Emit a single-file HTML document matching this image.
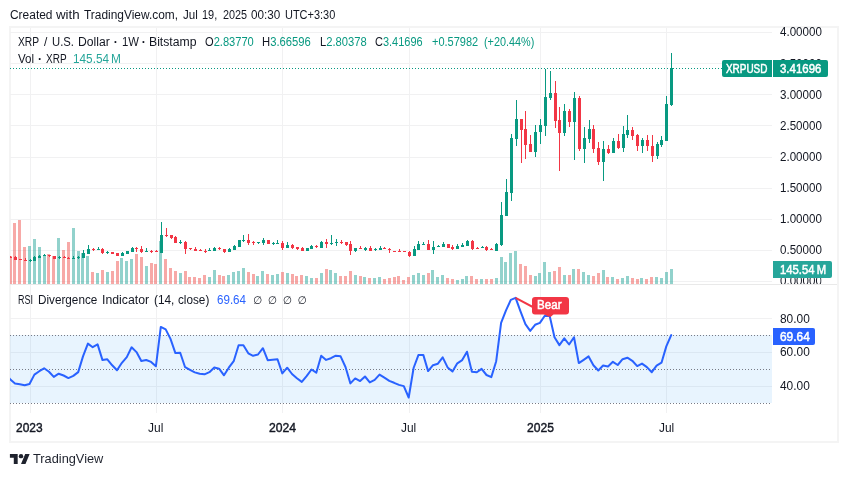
<!DOCTYPE html>
<html lang="en">
<head>
<meta charset="utf-8">
<title>XRP / U.S. Dollar chart</title>
<style>
html,body{margin:0;padding:0;background:#fff;}
body{width:848px;height:477px;position:relative;overflow:hidden;font-family:"Liberation Sans","DejaVu Sans",sans-serif;}
.t{position:absolute;white-space:pre;line-height:16px;transform-origin:0 50%;display:block;}
.t b{font-weight:400;color:#089981;}
.layer{position:absolute;left:0;top:0;width:848px;height:477px;}
</style>
</head>
<body>
<div class="layer">
<span class="t" id="t41" style="left:780.1px;top:56px;font-size:12px;color:#131722;transform:scaleX(0.9656);">3.50000</span>
<span class="t" id="t42" style="left:780.1px;top:273px;font-size:12px;color:#131722;transform:scaleX(0.9656);height:11.0px;overflow:hidden;">0.00000</span>
</div>
<svg width="848" height="477" viewBox="0 0 848 477" style="position:absolute;left:0;top:0">
<defs>
<clipPath id="cm"><rect x="10" y="28" width="762" height="256"/></clipPath>
<clipPath id="cr"><rect x="10" y="285" width="762" height="128"/></clipPath>
</defs>
<rect x="10" y="27" width="828" height="415" fill="none" stroke="#f4f4f4" stroke-width="2"/>
<g shape-rendering="crispEdges">
<rect x="10" y="32" width="762" height="1" fill="#f1f1f2"/>
<rect x="10" y="63" width="762" height="1" fill="#f1f1f2"/>
<rect x="10" y="94" width="762" height="1" fill="#f1f1f2"/>
<rect x="10" y="125" width="762" height="1" fill="#f1f1f2"/>
<rect x="10" y="157" width="762" height="1" fill="#f1f1f2"/>
<rect x="10" y="188" width="762" height="1" fill="#f1f1f2"/>
<rect x="10" y="219" width="762" height="1" fill="#f1f1f2"/>
<rect x="10" y="250" width="762" height="1" fill="#f1f1f2"/>
<rect x="10" y="281" width="762" height="1" fill="#f1f1f2"/>
<rect x="10" y="318" width="762" height="1" fill="#f1f1f2" fill-opacity="1"/>
<rect x="10" y="352" width="762" height="1" fill="#f1f1f2" fill-opacity="1"/>
<rect x="10" y="386" width="762" height="1" fill="#f1f1f2" fill-opacity="1"/>
<rect x="30" y="28" width="1" height="385" fill="#f1f1f2"/>
<rect x="156" y="28" width="1" height="385" fill="#f1f1f2"/>
<rect x="282" y="28" width="1" height="385" fill="#f1f1f2"/>
<rect x="409" y="28" width="1" height="385" fill="#f1f1f2"/>
<rect x="540" y="28" width="1" height="385" fill="#f1f1f2"/>
<rect x="666" y="28" width="1" height="385" fill="#f1f1f2"/>
<rect x="10" y="284" width="827" height="1" fill="#e9e9e9"/>
</g>
<rect x="10" y="335" width="762" height="68" fill="#2196f3" fill-opacity="0.1"/>
<g shape-rendering="crispEdges" clip-path="url(#cm)">
<rect x="9" y="256" width="3" height="28" fill="#ef5350" fill-opacity="0.5"/>
<rect x="13" y="223" width="3" height="61" fill="#ef5350" fill-opacity="0.5"/>
<rect x="18" y="220" width="3" height="64" fill="#ef5350" fill-opacity="0.5"/>
<rect x="23" y="247" width="3" height="37" fill="#ef5350" fill-opacity="0.5"/>
<rect x="28" y="246" width="3" height="38" fill="#26a69a" fill-opacity="0.5"/>
<rect x="33" y="239" width="3" height="45" fill="#26a69a" fill-opacity="0.5"/>
<rect x="38" y="247" width="3" height="37" fill="#26a69a" fill-opacity="0.5"/>
<rect x="43" y="255" width="3" height="29" fill="#26a69a" fill-opacity="0.5"/>
<rect x="47" y="254" width="3" height="30" fill="#ef5350" fill-opacity="0.5"/>
<rect x="52" y="256" width="3" height="28" fill="#ef5350" fill-opacity="0.5"/>
<rect x="57" y="238" width="3" height="46" fill="#26a69a" fill-opacity="0.5"/>
<rect x="62" y="250" width="3" height="34" fill="#ef5350" fill-opacity="0.5"/>
<rect x="67" y="242" width="3" height="42" fill="#ef5350" fill-opacity="0.5"/>
<rect x="72" y="228" width="3" height="56" fill="#26a69a" fill-opacity="0.5"/>
<rect x="77" y="251" width="3" height="33" fill="#26a69a" fill-opacity="0.5"/>
<rect x="81" y="253" width="3" height="31" fill="#26a69a" fill-opacity="0.5"/>
<rect x="86" y="256" width="3" height="28" fill="#26a69a" fill-opacity="0.5"/>
<rect x="91" y="272" width="3" height="12" fill="#ef5350" fill-opacity="0.5"/>
<rect x="96" y="273" width="3" height="11" fill="#26a69a" fill-opacity="0.5"/>
<rect x="101" y="270" width="3" height="14" fill="#ef5350" fill-opacity="0.5"/>
<rect x="106" y="272" width="3" height="12" fill="#26a69a" fill-opacity="0.5"/>
<rect x="111" y="271" width="3" height="13" fill="#ef5350" fill-opacity="0.5"/>
<rect x="116" y="261" width="3" height="23" fill="#ef5350" fill-opacity="0.5"/>
<rect x="120" y="258" width="3" height="26" fill="#26a69a" fill-opacity="0.5"/>
<rect x="125" y="261" width="3" height="23" fill="#26a69a" fill-opacity="0.5"/>
<rect x="130" y="259" width="3" height="25" fill="#26a69a" fill-opacity="0.5"/>
<rect x="135" y="254" width="3" height="30" fill="#ef5350" fill-opacity="0.5"/>
<rect x="140" y="257" width="3" height="27" fill="#ef5350" fill-opacity="0.5"/>
<rect x="145" y="266" width="3" height="18" fill="#26a69a" fill-opacity="0.5"/>
<rect x="150" y="263" width="3" height="21" fill="#ef5350" fill-opacity="0.5"/>
<rect x="154" y="264" width="3" height="20" fill="#ef5350" fill-opacity="0.5"/>
<rect x="159" y="241" width="3" height="43" fill="#26a69a" fill-opacity="0.5"/>
<rect x="164" y="259" width="3" height="25" fill="#ef5350" fill-opacity="0.5"/>
<rect x="169" y="268" width="3" height="16" fill="#ef5350" fill-opacity="0.5"/>
<rect x="174" y="271" width="3" height="13" fill="#ef5350" fill-opacity="0.5"/>
<rect x="179" y="273" width="3" height="11" fill="#26a69a" fill-opacity="0.5"/>
<rect x="184" y="271" width="3" height="13" fill="#ef5350" fill-opacity="0.5"/>
<rect x="188" y="277" width="3" height="7" fill="#ef5350" fill-opacity="0.5"/>
<rect x="193" y="277" width="3" height="7" fill="#ef5350" fill-opacity="0.5"/>
<rect x="198" y="278" width="3" height="6" fill="#ef5350" fill-opacity="0.5"/>
<rect x="203" y="275" width="3" height="9" fill="#ef5350" fill-opacity="0.5"/>
<rect x="208" y="277" width="3" height="7" fill="#26a69a" fill-opacity="0.5"/>
<rect x="213" y="270" width="3" height="14" fill="#26a69a" fill-opacity="0.5"/>
<rect x="218" y="275" width="3" height="9" fill="#ef5350" fill-opacity="0.5"/>
<rect x="222" y="276" width="3" height="8" fill="#ef5350" fill-opacity="0.5"/>
<rect x="227" y="275" width="3" height="9" fill="#26a69a" fill-opacity="0.5"/>
<rect x="232" y="272" width="3" height="12" fill="#26a69a" fill-opacity="0.5"/>
<rect x="237" y="271" width="3" height="13" fill="#26a69a" fill-opacity="0.5"/>
<rect x="242" y="268" width="3" height="16" fill="#26a69a" fill-opacity="0.5"/>
<rect x="247" y="272" width="3" height="12" fill="#ef5350" fill-opacity="0.5"/>
<rect x="252" y="274" width="3" height="10" fill="#ef5350" fill-opacity="0.5"/>
<rect x="256" y="276" width="3" height="8" fill="#26a69a" fill-opacity="0.5"/>
<rect x="261" y="271" width="3" height="13" fill="#26a69a" fill-opacity="0.5"/>
<rect x="266" y="274" width="3" height="10" fill="#ef5350" fill-opacity="0.5"/>
<rect x="271" y="275" width="3" height="9" fill="#26a69a" fill-opacity="0.5"/>
<rect x="276" y="274" width="3" height="10" fill="#26a69a" fill-opacity="0.5"/>
<rect x="281" y="272" width="3" height="12" fill="#ef5350" fill-opacity="0.5"/>
<rect x="286" y="273" width="3" height="11" fill="#26a69a" fill-opacity="0.5"/>
<rect x="291" y="274" width="3" height="10" fill="#ef5350" fill-opacity="0.5"/>
<rect x="295" y="276" width="3" height="8" fill="#ef5350" fill-opacity="0.5"/>
<rect x="300" y="275" width="3" height="9" fill="#ef5350" fill-opacity="0.5"/>
<rect x="305" y="276" width="3" height="8" fill="#26a69a" fill-opacity="0.5"/>
<rect x="310" y="278" width="3" height="6" fill="#26a69a" fill-opacity="0.5"/>
<rect x="315" y="278" width="3" height="6" fill="#ef5350" fill-opacity="0.5"/>
<rect x="320" y="273" width="3" height="11" fill="#26a69a" fill-opacity="0.5"/>
<rect x="325" y="269" width="3" height="15" fill="#ef5350" fill-opacity="0.5"/>
<rect x="329" y="270" width="3" height="14" fill="#26a69a" fill-opacity="0.5"/>
<rect x="334" y="273" width="3" height="11" fill="#26a69a" fill-opacity="0.5"/>
<rect x="339" y="276" width="3" height="8" fill="#ef5350" fill-opacity="0.5"/>
<rect x="344" y="276" width="3" height="8" fill="#ef5350" fill-opacity="0.5"/>
<rect x="349" y="271" width="3" height="13" fill="#ef5350" fill-opacity="0.5"/>
<rect x="354" y="275" width="3" height="9" fill="#26a69a" fill-opacity="0.5"/>
<rect x="359" y="276" width="3" height="8" fill="#ef5350" fill-opacity="0.5"/>
<rect x="363" y="277" width="3" height="7" fill="#26a69a" fill-opacity="0.5"/>
<rect x="368" y="278" width="3" height="6" fill="#ef5350" fill-opacity="0.5"/>
<rect x="373" y="278" width="3" height="6" fill="#26a69a" fill-opacity="0.5"/>
<rect x="378" y="277" width="3" height="7" fill="#26a69a" fill-opacity="0.5"/>
<rect x="383" y="279" width="3" height="5" fill="#ef5350" fill-opacity="0.5"/>
<rect x="388" y="278" width="3" height="6" fill="#ef5350" fill-opacity="0.5"/>
<rect x="393" y="277" width="3" height="7" fill="#ef5350" fill-opacity="0.5"/>
<rect x="397" y="276" width="3" height="8" fill="#ef5350" fill-opacity="0.5"/>
<rect x="402" y="280" width="3" height="4" fill="#ef5350" fill-opacity="0.5"/>
<rect x="407" y="277" width="3" height="7" fill="#ef5350" fill-opacity="0.5"/>
<rect x="412" y="275" width="3" height="9" fill="#26a69a" fill-opacity="0.5"/>
<rect x="417" y="273" width="3" height="11" fill="#26a69a" fill-opacity="0.5"/>
<rect x="422" y="275" width="3" height="9" fill="#26a69a" fill-opacity="0.5"/>
<rect x="427" y="273" width="3" height="11" fill="#ef5350" fill-opacity="0.5"/>
<rect x="431" y="270" width="3" height="14" fill="#26a69a" fill-opacity="0.5"/>
<rect x="436" y="277" width="3" height="7" fill="#26a69a" fill-opacity="0.5"/>
<rect x="441" y="275" width="3" height="9" fill="#26a69a" fill-opacity="0.5"/>
<rect x="446" y="278" width="3" height="6" fill="#ef5350" fill-opacity="0.5"/>
<rect x="451" y="279" width="3" height="5" fill="#ef5350" fill-opacity="0.5"/>
<rect x="456" y="280" width="3" height="4" fill="#26a69a" fill-opacity="0.5"/>
<rect x="461" y="279" width="3" height="5" fill="#26a69a" fill-opacity="0.5"/>
<rect x="465" y="276" width="3" height="8" fill="#26a69a" fill-opacity="0.5"/>
<rect x="470" y="276" width="3" height="8" fill="#ef5350" fill-opacity="0.5"/>
<rect x="475" y="279" width="3" height="5" fill="#ef5350" fill-opacity="0.5"/>
<rect x="480" y="279" width="3" height="5" fill="#26a69a" fill-opacity="0.5"/>
<rect x="485" y="279" width="3" height="5" fill="#ef5350" fill-opacity="0.5"/>
<rect x="490" y="279" width="3" height="5" fill="#ef5350" fill-opacity="0.5"/>
<rect x="495" y="278" width="3" height="6" fill="#26a69a" fill-opacity="0.5"/>
<rect x="500" y="257" width="3" height="27" fill="#26a69a" fill-opacity="0.5"/>
<rect x="504" y="262" width="3" height="22" fill="#26a69a" fill-opacity="0.5"/>
<rect x="509" y="253" width="3" height="31" fill="#26a69a" fill-opacity="0.5"/>
<rect x="514" y="251" width="3" height="33" fill="#26a69a" fill-opacity="0.5"/>
<rect x="519" y="264" width="3" height="20" fill="#ef5350" fill-opacity="0.5"/>
<rect x="524" y="266" width="3" height="18" fill="#ef5350" fill-opacity="0.5"/>
<rect x="529" y="275" width="3" height="9" fill="#ef5350" fill-opacity="0.5"/>
<rect x="534" y="276" width="3" height="8" fill="#26a69a" fill-opacity="0.5"/>
<rect x="538" y="273" width="3" height="11" fill="#26a69a" fill-opacity="0.5"/>
<rect x="543" y="262" width="3" height="22" fill="#26a69a" fill-opacity="0.5"/>
<rect x="548" y="272" width="3" height="12" fill="#26a69a" fill-opacity="0.5"/>
<rect x="553" y="271" width="3" height="13" fill="#ef5350" fill-opacity="0.5"/>
<rect x="558" y="267" width="3" height="17" fill="#ef5350" fill-opacity="0.5"/>
<rect x="563" y="275" width="3" height="9" fill="#26a69a" fill-opacity="0.5"/>
<rect x="568" y="275" width="3" height="9" fill="#ef5350" fill-opacity="0.5"/>
<rect x="572" y="269" width="3" height="15" fill="#26a69a" fill-opacity="0.5"/>
<rect x="577" y="269" width="3" height="15" fill="#ef5350" fill-opacity="0.5"/>
<rect x="582" y="272" width="3" height="12" fill="#26a69a" fill-opacity="0.5"/>
<rect x="587" y="275" width="3" height="9" fill="#26a69a" fill-opacity="0.5"/>
<rect x="592" y="276" width="3" height="8" fill="#ef5350" fill-opacity="0.5"/>
<rect x="597" y="273" width="3" height="11" fill="#ef5350" fill-opacity="0.5"/>
<rect x="602" y="270" width="3" height="14" fill="#26a69a" fill-opacity="0.5"/>
<rect x="606" y="277" width="3" height="7" fill="#ef5350" fill-opacity="0.5"/>
<rect x="611" y="277" width="3" height="7" fill="#26a69a" fill-opacity="0.5"/>
<rect x="616" y="279" width="3" height="5" fill="#ef5350" fill-opacity="0.5"/>
<rect x="621" y="278" width="3" height="6" fill="#26a69a" fill-opacity="0.5"/>
<rect x="626" y="276" width="3" height="8" fill="#26a69a" fill-opacity="0.5"/>
<rect x="631" y="278" width="3" height="6" fill="#ef5350" fill-opacity="0.5"/>
<rect x="636" y="279" width="3" height="5" fill="#ef5350" fill-opacity="0.5"/>
<rect x="640" y="278" width="3" height="6" fill="#26a69a" fill-opacity="0.5"/>
<rect x="645" y="279" width="3" height="5" fill="#ef5350" fill-opacity="0.5"/>
<rect x="650" y="277" width="3" height="7" fill="#ef5350" fill-opacity="0.5"/>
<rect x="655" y="277" width="3" height="7" fill="#26a69a" fill-opacity="0.5"/>
<rect x="660" y="278" width="3" height="6" fill="#26a69a" fill-opacity="0.5"/>
<rect x="665" y="272" width="3" height="12" fill="#26a69a" fill-opacity="0.5"/>
<rect x="670" y="269" width="3" height="15" fill="#26a69a" fill-opacity="0.5"/>
</g>
<line x1="10" y1="68.5" x2="722" y2="68.5" stroke="#089981" stroke-width="1" stroke-dasharray="1 2" shape-rendering="crispEdges"/>
<g shape-rendering="crispEdges" clip-path="url(#cm)">
<rect x="10" y="256" width="1" height="2" fill="#f23645"/>
<rect x="9" y="257" width="3" height="1" fill="#f23645"/>
<rect x="15" y="256" width="1" height="4" fill="#f23645"/>
<rect x="14" y="257" width="3" height="3" fill="#f23645"/>
<rect x="19" y="259" width="3" height="1" fill="#f23645"/>
<rect x="25" y="258" width="1" height="3" fill="#f23645"/>
<rect x="24" y="260" width="3" height="1" fill="#f23645"/>
<rect x="30" y="259" width="1" height="3" fill="#089981"/>
<rect x="29" y="260" width="3" height="1" fill="#089981"/>
<rect x="34" y="256" width="1" height="5" fill="#089981"/>
<rect x="33" y="257" width="3" height="4" fill="#089981"/>
<rect x="39" y="255" width="1" height="3" fill="#089981"/>
<rect x="38" y="256" width="3" height="2" fill="#089981"/>
<rect x="44" y="254" width="1" height="2" fill="#089981"/>
<rect x="43" y="255" width="3" height="1" fill="#089981"/>
<rect x="49" y="255" width="1" height="2" fill="#f23645"/>
<rect x="48" y="255" width="3" height="1" fill="#f23645"/>
<rect x="53" y="256" width="3" height="3" fill="#f23645"/>
<rect x="59" y="256" width="1" height="3" fill="#089981"/>
<rect x="58" y="257" width="3" height="1" fill="#089981"/>
<rect x="64" y="256" width="1" height="2" fill="#f23645"/>
<rect x="63" y="257" width="3" height="1" fill="#f23645"/>
<rect x="68" y="257" width="1" height="2" fill="#f23645"/>
<rect x="67" y="258" width="3" height="1" fill="#f23645"/>
<rect x="73" y="256" width="1" height="3" fill="#089981"/>
<rect x="72" y="258" width="3" height="1" fill="#089981"/>
<rect x="78" y="256" width="1" height="3" fill="#089981"/>
<rect x="77" y="257" width="3" height="1" fill="#089981"/>
<rect x="83" y="250" width="1" height="8" fill="#089981"/>
<rect x="82" y="253" width="3" height="5" fill="#089981"/>
<rect x="88" y="245" width="1" height="9" fill="#089981"/>
<rect x="87" y="249" width="3" height="5" fill="#089981"/>
<rect x="93" y="248" width="1" height="3" fill="#f23645"/>
<rect x="92" y="249" width="3" height="1" fill="#f23645"/>
<rect x="98" y="247" width="1" height="3" fill="#089981"/>
<rect x="97" y="249" width="3" height="1" fill="#089981"/>
<rect x="102" y="248" width="1" height="6" fill="#f23645"/>
<rect x="101" y="249" width="3" height="4" fill="#f23645"/>
<rect x="107" y="251" width="1" height="3" fill="#089981"/>
<rect x="106" y="252" width="3" height="1" fill="#089981"/>
<rect x="111" y="252" width="3" height="2" fill="#f23645"/>
<rect x="116" y="253" width="3" height="3" fill="#f23645"/>
<rect x="122" y="252" width="1" height="4" fill="#089981"/>
<rect x="121" y="253" width="3" height="3" fill="#089981"/>
<rect x="126" y="251" width="3" height="3" fill="#089981"/>
<rect x="132" y="247" width="1" height="5" fill="#089981"/>
<rect x="131" y="248" width="3" height="4" fill="#089981"/>
<rect x="136" y="247" width="1" height="5" fill="#f23645"/>
<rect x="135" y="248" width="3" height="1" fill="#f23645"/>
<rect x="141" y="246" width="1" height="7" fill="#f23645"/>
<rect x="140" y="249" width="3" height="3" fill="#f23645"/>
<rect x="146" y="248" width="1" height="4" fill="#089981"/>
<rect x="145" y="251" width="3" height="1" fill="#089981"/>
<rect x="151" y="250" width="1" height="3" fill="#f23645"/>
<rect x="150" y="251" width="3" height="1" fill="#f23645"/>
<rect x="156" y="250" width="1" height="2" fill="#f23645"/>
<rect x="155" y="251" width="3" height="1" fill="#f23645"/>
<rect x="161" y="222" width="1" height="31" fill="#089981"/>
<rect x="160" y="235" width="3" height="18" fill="#089981"/>
<rect x="166" y="228" width="1" height="9" fill="#f23645"/>
<rect x="165" y="235" width="3" height="1" fill="#f23645"/>
<rect x="171" y="235" width="1" height="4" fill="#f23645"/>
<rect x="170" y="235" width="3" height="3" fill="#f23645"/>
<rect x="175" y="236" width="1" height="7" fill="#f23645"/>
<rect x="174" y="237" width="3" height="6" fill="#f23645"/>
<rect x="180" y="240" width="1" height="4" fill="#089981"/>
<rect x="179" y="242" width="3" height="1" fill="#089981"/>
<rect x="185" y="241" width="1" height="13" fill="#f23645"/>
<rect x="184" y="242" width="3" height="7" fill="#f23645"/>
<rect x="190" y="248" width="1" height="2" fill="#f23645"/>
<rect x="189" y="248" width="3" height="1" fill="#f23645"/>
<rect x="195" y="247" width="1" height="4" fill="#f23645"/>
<rect x="194" y="249" width="3" height="2" fill="#f23645"/>
<rect x="200" y="249" width="1" height="2" fill="#f23645"/>
<rect x="199" y="250" width="3" height="1" fill="#f23645"/>
<rect x="205" y="249" width="1" height="4" fill="#f23645"/>
<rect x="204" y="251" width="3" height="1" fill="#f23645"/>
<rect x="209" y="248" width="1" height="3" fill="#089981"/>
<rect x="208" y="250" width="3" height="1" fill="#089981"/>
<rect x="214" y="247" width="1" height="4" fill="#089981"/>
<rect x="213" y="248" width="3" height="3" fill="#089981"/>
<rect x="219" y="247" width="1" height="3" fill="#f23645"/>
<rect x="218" y="248" width="3" height="1" fill="#f23645"/>
<rect x="224" y="249" width="1" height="4" fill="#f23645"/>
<rect x="223" y="249" width="3" height="3" fill="#f23645"/>
<rect x="229" y="248" width="1" height="4" fill="#089981"/>
<rect x="228" y="249" width="3" height="3" fill="#089981"/>
<rect x="234" y="245" width="1" height="5" fill="#089981"/>
<rect x="233" y="246" width="3" height="4" fill="#089981"/>
<rect x="238" y="240" width="3" height="7" fill="#089981"/>
<rect x="243" y="235" width="1" height="7" fill="#089981"/>
<rect x="242" y="240" width="3" height="1" fill="#089981"/>
<rect x="248" y="234" width="1" height="11" fill="#f23645"/>
<rect x="247" y="240" width="3" height="3" fill="#f23645"/>
<rect x="253" y="241" width="1" height="4" fill="#f23645"/>
<rect x="252" y="242" width="3" height="1" fill="#f23645"/>
<rect x="258" y="242" width="1" height="2" fill="#089981"/>
<rect x="257" y="242" width="3" height="1" fill="#089981"/>
<rect x="263" y="238" width="1" height="7" fill="#089981"/>
<rect x="262" y="240" width="3" height="3" fill="#089981"/>
<rect x="267" y="240" width="3" height="4" fill="#f23645"/>
<rect x="273" y="242" width="1" height="3" fill="#089981"/>
<rect x="272" y="243" width="3" height="1" fill="#089981"/>
<rect x="277" y="240" width="1" height="4" fill="#089981"/>
<rect x="276" y="243" width="3" height="1" fill="#089981"/>
<rect x="282" y="241" width="1" height="9" fill="#f23645"/>
<rect x="281" y="243" width="3" height="5" fill="#f23645"/>
<rect x="287" y="242" width="1" height="6" fill="#089981"/>
<rect x="286" y="245" width="3" height="3" fill="#089981"/>
<rect x="292" y="244" width="1" height="5" fill="#f23645"/>
<rect x="291" y="245" width="3" height="3" fill="#f23645"/>
<rect x="297" y="247" width="1" height="3" fill="#f23645"/>
<rect x="296" y="247" width="3" height="2" fill="#f23645"/>
<rect x="302" y="247" width="1" height="4" fill="#f23645"/>
<rect x="301" y="248" width="3" height="3" fill="#f23645"/>
<rect x="306" y="248" width="3" height="3" fill="#089981"/>
<rect x="311" y="245" width="1" height="4" fill="#089981"/>
<rect x="310" y="246" width="3" height="3" fill="#089981"/>
<rect x="316" y="245" width="1" height="3" fill="#f23645"/>
<rect x="315" y="246" width="3" height="1" fill="#f23645"/>
<rect x="321" y="241" width="1" height="7" fill="#089981"/>
<rect x="320" y="242" width="3" height="6" fill="#089981"/>
<rect x="326" y="239" width="1" height="9" fill="#f23645"/>
<rect x="325" y="242" width="3" height="2" fill="#f23645"/>
<rect x="331" y="235" width="1" height="10" fill="#089981"/>
<rect x="330" y="243" width="3" height="1" fill="#089981"/>
<rect x="336" y="239" width="1" height="7" fill="#089981"/>
<rect x="335" y="242" width="3" height="1" fill="#089981"/>
<rect x="341" y="240" width="1" height="4" fill="#f23645"/>
<rect x="340" y="242" width="3" height="1" fill="#f23645"/>
<rect x="346" y="242" width="1" height="4" fill="#f23645"/>
<rect x="345" y="242" width="3" height="3" fill="#f23645"/>
<rect x="350" y="241" width="1" height="14" fill="#f23645"/>
<rect x="349" y="244" width="3" height="7" fill="#f23645"/>
<rect x="355" y="248" width="1" height="4" fill="#089981"/>
<rect x="354" y="248" width="3" height="3" fill="#089981"/>
<rect x="360" y="246" width="1" height="3" fill="#f23645"/>
<rect x="359" y="248" width="3" height="1" fill="#f23645"/>
<rect x="365" y="247" width="1" height="4" fill="#089981"/>
<rect x="364" y="248" width="3" height="2" fill="#089981"/>
<rect x="370" y="246" width="1" height="5" fill="#f23645"/>
<rect x="369" y="248" width="3" height="3" fill="#f23645"/>
<rect x="375" y="248" width="1" height="3" fill="#089981"/>
<rect x="374" y="249" width="3" height="1" fill="#089981"/>
<rect x="380" y="246" width="1" height="4" fill="#089981"/>
<rect x="379" y="248" width="3" height="2" fill="#089981"/>
<rect x="384" y="247" width="1" height="2" fill="#f23645"/>
<rect x="383" y="248" width="3" height="1" fill="#f23645"/>
<rect x="389" y="248" width="1" height="5" fill="#f23645"/>
<rect x="388" y="249" width="3" height="1" fill="#f23645"/>
<rect x="393" y="251" width="3" height="1" fill="#f23645"/>
<rect x="399" y="249" width="1" height="3" fill="#f23645"/>
<rect x="398" y="251" width="3" height="1" fill="#f23645"/>
<rect x="403" y="251" width="3" height="1" fill="#f23645"/>
<rect x="409" y="251" width="1" height="6" fill="#f23645"/>
<rect x="408" y="252" width="3" height="4" fill="#f23645"/>
<rect x="414" y="246" width="1" height="10" fill="#089981"/>
<rect x="413" y="249" width="3" height="7" fill="#089981"/>
<rect x="418" y="241" width="1" height="9" fill="#089981"/>
<rect x="417" y="244" width="3" height="6" fill="#089981"/>
<rect x="423" y="242" width="1" height="3" fill="#089981"/>
<rect x="422" y="244" width="3" height="1" fill="#089981"/>
<rect x="428" y="240" width="1" height="10" fill="#f23645"/>
<rect x="427" y="244" width="3" height="6" fill="#f23645"/>
<rect x="433" y="241" width="1" height="13" fill="#089981"/>
<rect x="432" y="247" width="3" height="3" fill="#089981"/>
<rect x="438" y="245" width="1" height="2" fill="#089981"/>
<rect x="437" y="246" width="3" height="1" fill="#089981"/>
<rect x="443" y="242" width="1" height="5" fill="#089981"/>
<rect x="442" y="244" width="3" height="3" fill="#089981"/>
<rect x="447" y="244" width="3" height="4" fill="#f23645"/>
<rect x="452" y="245" width="1" height="5" fill="#f23645"/>
<rect x="451" y="247" width="3" height="2" fill="#f23645"/>
<rect x="457" y="244" width="1" height="5" fill="#089981"/>
<rect x="456" y="246" width="3" height="3" fill="#089981"/>
<rect x="462" y="243" width="1" height="4" fill="#089981"/>
<rect x="461" y="245" width="3" height="2" fill="#089981"/>
<rect x="467" y="240" width="1" height="6" fill="#089981"/>
<rect x="466" y="241" width="3" height="5" fill="#089981"/>
<rect x="472" y="240" width="1" height="10" fill="#f23645"/>
<rect x="471" y="241" width="3" height="8" fill="#f23645"/>
<rect x="477" y="247" width="1" height="2" fill="#f23645"/>
<rect x="476" y="248" width="3" height="1" fill="#f23645"/>
<rect x="482" y="246" width="1" height="2" fill="#089981"/>
<rect x="481" y="247" width="3" height="1" fill="#089981"/>
<rect x="486" y="246" width="1" height="5" fill="#f23645"/>
<rect x="485" y="247" width="3" height="3" fill="#f23645"/>
<rect x="491" y="248" width="1" height="2" fill="#f23645"/>
<rect x="490" y="249" width="3" height="1" fill="#f23645"/>
<rect x="496" y="243" width="1" height="8" fill="#089981"/>
<rect x="495" y="244" width="3" height="7" fill="#089981"/>
<rect x="501" y="202" width="1" height="44" fill="#089981"/>
<rect x="500" y="215" width="3" height="30" fill="#089981"/>
<rect x="506" y="179" width="1" height="37" fill="#089981"/>
<rect x="505" y="192" width="3" height="24" fill="#089981"/>
<rect x="511" y="134" width="1" height="67" fill="#089981"/>
<rect x="510" y="138" width="3" height="55" fill="#089981"/>
<rect x="516" y="100" width="1" height="46" fill="#089981"/>
<rect x="515" y="119" width="3" height="20" fill="#089981"/>
<rect x="521" y="119" width="1" height="44" fill="#f23645"/>
<rect x="520" y="119" width="3" height="11" fill="#f23645"/>
<rect x="525" y="111" width="1" height="48" fill="#f23645"/>
<rect x="524" y="129" width="3" height="16" fill="#f23645"/>
<rect x="530" y="135" width="1" height="17" fill="#f23645"/>
<rect x="529" y="144" width="3" height="8" fill="#f23645"/>
<rect x="535" y="125" width="1" height="32" fill="#089981"/>
<rect x="534" y="132" width="3" height="20" fill="#089981"/>
<rect x="540" y="119" width="1" height="25" fill="#089981"/>
<rect x="539" y="125" width="3" height="7" fill="#089981"/>
<rect x="545" y="69" width="1" height="67" fill="#089981"/>
<rect x="544" y="97" width="3" height="29" fill="#089981"/>
<rect x="550" y="71" width="1" height="29" fill="#089981"/>
<rect x="549" y="93" width="3" height="5" fill="#089981"/>
<rect x="555" y="81" width="1" height="47" fill="#f23645"/>
<rect x="554" y="93" width="3" height="28" fill="#f23645"/>
<rect x="559" y="107" width="1" height="64" fill="#f23645"/>
<rect x="558" y="120" width="3" height="13" fill="#f23645"/>
<rect x="564" y="104" width="1" height="32" fill="#089981"/>
<rect x="563" y="111" width="3" height="22" fill="#089981"/>
<rect x="569" y="109" width="1" height="18" fill="#f23645"/>
<rect x="568" y="111" width="3" height="11" fill="#f23645"/>
<rect x="574" y="92" width="1" height="68" fill="#089981"/>
<rect x="573" y="98" width="3" height="24" fill="#089981"/>
<rect x="579" y="96" width="1" height="55" fill="#f23645"/>
<rect x="578" y="98" width="3" height="51" fill="#f23645"/>
<rect x="584" y="127" width="1" height="36" fill="#089981"/>
<rect x="583" y="138" width="3" height="11" fill="#089981"/>
<rect x="589" y="120" width="1" height="23" fill="#089981"/>
<rect x="588" y="129" width="3" height="10" fill="#089981"/>
<rect x="593" y="125" width="1" height="28" fill="#f23645"/>
<rect x="592" y="129" width="3" height="20" fill="#f23645"/>
<rect x="598" y="142" width="1" height="23" fill="#f23645"/>
<rect x="597" y="148" width="3" height="14" fill="#f23645"/>
<rect x="603" y="141" width="1" height="40" fill="#089981"/>
<rect x="602" y="149" width="3" height="13" fill="#089981"/>
<rect x="608" y="145" width="1" height="9" fill="#f23645"/>
<rect x="607" y="149" width="3" height="4" fill="#f23645"/>
<rect x="613" y="138" width="1" height="15" fill="#089981"/>
<rect x="612" y="141" width="3" height="12" fill="#089981"/>
<rect x="618" y="134" width="1" height="15" fill="#f23645"/>
<rect x="617" y="141" width="3" height="7" fill="#f23645"/>
<rect x="623" y="126" width="1" height="26" fill="#089981"/>
<rect x="622" y="134" width="3" height="14" fill="#089981"/>
<rect x="627" y="115" width="1" height="23" fill="#089981"/>
<rect x="626" y="130" width="3" height="5" fill="#089981"/>
<rect x="632" y="127" width="1" height="13" fill="#f23645"/>
<rect x="631" y="130" width="3" height="6" fill="#f23645"/>
<rect x="637" y="134" width="1" height="17" fill="#f23645"/>
<rect x="636" y="135" width="3" height="11" fill="#f23645"/>
<rect x="642" y="138" width="1" height="15" fill="#089981"/>
<rect x="641" y="140" width="3" height="6" fill="#089981"/>
<rect x="647" y="135" width="1" height="16" fill="#f23645"/>
<rect x="646" y="140" width="3" height="6" fill="#f23645"/>
<rect x="652" y="135" width="1" height="27" fill="#f23645"/>
<rect x="651" y="146" width="3" height="10" fill="#f23645"/>
<rect x="657" y="142" width="1" height="17" fill="#089981"/>
<rect x="656" y="144" width="3" height="12" fill="#089981"/>
<rect x="661" y="136" width="1" height="11" fill="#089981"/>
<rect x="660" y="140" width="3" height="5" fill="#089981"/>
<rect x="666" y="96" width="1" height="45" fill="#089981"/>
<rect x="665" y="104" width="3" height="37" fill="#089981"/>
<rect x="671" y="53" width="1" height="53" fill="#089981"/>
<rect x="670" y="68" width="3" height="37" fill="#089981"/>
</g>
<line x1="10" y1="335.5" x2="772" y2="335.5" stroke="#787b86" stroke-width="1" stroke-dasharray="1 2" shape-rendering="crispEdges"/>
<line x1="10" y1="369.5" x2="772" y2="369.5" stroke="#787b86" stroke-width="1" stroke-dasharray="1 2" shape-rendering="crispEdges"/>
<line x1="10" y1="403.5" x2="772" y2="403.5" stroke="#787b86" stroke-width="1" stroke-dasharray="1 2" shape-rendering="crispEdges"/>
<polyline clip-path="url(#cr)" points="5.2,373.3 10.1,379.3 15.0,383.4 19.8,384.3 24.7,385.3 29.5,384.0 34.4,374.6 39.3,371.2 44.1,368.3 49.0,371.8 53.8,376.9 58.7,373.7 63.6,375.5 68.4,378.1 73.3,375.9 78.2,372.1 83.0,356.4 87.9,343.6 92.7,347.2 97.6,344.4 102.5,360.1 107.3,359.3 112.2,365.3 117.0,370.3 121.9,362.8 126.8,357.1 131.6,347.3 136.5,352.1 141.3,360.9 146.2,360.0 151.1,361.9 155.9,366.3 160.8,326.9 165.7,329.4 170.5,338.9 175.4,353.1 180.2,352.7 185.1,367.2 190.0,369.9 194.8,372.4 199.7,373.8 204.5,374.3 209.4,372.2 214.3,367.5 219.1,368.7 224.0,375.3 228.8,367.7 233.7,361.2 238.6,345.3 243.4,345.3 248.3,353.3 253.1,355.8 258.0,354.5 262.9,348.2 267.7,360.2 272.6,359.8 277.5,359.3 282.3,373.4 287.2,367.7 292.0,374.0 296.9,378.2 301.8,381.9 306.6,376.1 311.5,369.5 316.3,372.7 321.2,355.7 326.1,359.9 330.9,358.2 335.8,355.7 340.6,356.3 345.5,367.0 350.4,383.4 355.2,378.4 360.1,381.1 365.0,376.5 369.8,382.4 374.7,379.9 379.5,374.6 384.4,377.7 389.3,380.9 394.1,382.8 399.0,384.9 403.8,386.1 408.7,397.5 413.6,368.0 418.4,355.1 423.3,354.9 428.1,371.1 433.0,365.2 437.9,363.7 442.7,357.4 447.6,367.4 452.5,371.5 457.3,363.3 462.2,360.1 467.0,351.7 471.9,371.8 476.8,372.3 481.6,368.9 486.5,375.0 491.3,377.1 496.2,361.2 501.1,322.9 505.9,310.7 510.8,299.8 515.6,297.8 520.5,311.4 525.4,324.2 530.2,330.9 535.1,324.8 539.9,322.9 544.8,315.8 549.7,316.0 554.5,337.2 559.4,345.1 564.3,338.4 569.1,344.5 574.0,337.2 578.8,363.1 583.7,359.8 588.6,356.4 593.4,365.2 598.3,370.5 603.1,365.5 608.0,366.5 612.9,361.8 617.7,365.0 622.6,359.2 627.4,357.7 632.3,360.8 637.2,366.1 642.0,363.6 646.9,367.1 651.8,372.2 656.6,365.6 661.5,362.7 666.3,346.4 671.2,335.1" fill="none" stroke="#2962ff" stroke-width="2" stroke-linejoin="round" stroke-linecap="round"/>
<line x1="515.6" y1="297.8" x2="549.7" y2="316.0" stroke="#f23645" stroke-width="2"/>
<path d="M535 297h31a3 3 0 0 1 3 3v11.6a3 3 0 0 1 -3 3h-12.5l-3 2.4l-3 -2.4h-12.5a3 3 0 0 1 -3 -3v-11.6a3 3 0 0 1 3 -3z" fill="#f23645"/>
<path d="M724 60h48v17h-48a2 2 0 0 1 -2 -2v-13a2 2 0 0 1 2 -2z" fill="#089981"/>
<path d="M773 60h53a2 2 0 0 1 2 2v13a2 2 0 0 1 -2 2h-53v-17z" fill="#089981"/>
<path d="M773 261h57a2 2 0 0 1 2 2v13a2 2 0 0 1 -2 2h-57v-17z" fill="#26a69a"/>
<path d="M773 328h40a2 2 0 0 1 2 2v13a2 2 0 0 1 -2 2h-40v-17z" fill="#2962ff"/>
<g transform="translate(9.9,451.7) scale(0.556)" fill="#1e222d"><path d="M14 22H7V11H0V4h14v18zM28 22h-8l7.5-18h8L28 22z"/><circle cx="20" cy="8" r="4"/></g>
</svg>
<div class="layer">
<span class="t" id="t0" style="left:10.2px;top:7px;font-size:12px;color:#131722;transform:scaleX(0.9952);">Created</span>
<span class="t" id="t1" style="left:56.3px;top:7px;font-size:12px;color:#131722;transform:scaleX(1.1104);">with</span>
<span class="t" id="t2" style="left:83.6px;top:7px;font-size:12px;color:#131722;transform:scaleX(0.9924);">TradingView.com,</span>
<span class="t" id="t3" style="left:182.6px;top:7px;font-size:12px;color:#131722;transform:scaleX(0.9646);">Jul</span>
<span class="t" id="t4" style="left:202.0px;top:7px;font-size:12px;color:#131722;transform:scaleX(0.9109);">19,</span>
<span class="t" id="t5" style="left:222.8px;top:7px;font-size:12px;color:#131722;transform:scaleX(0.9025);">2025</span>
<span class="t" id="t6" style="left:250.9px;top:7px;font-size:12px;color:#131722;transform:scaleX(0.9757);">00:30</span>
<span class="t" id="t7" style="left:285.0px;top:7px;font-size:12px;color:#131722;transform:scaleX(0.9140);">UTC+3:30</span>
<span class="t" id="t8" style="left:17.5px;top:34px;font-size:12px;color:#131722;transform:scaleX(0.8547);">XRP</span>
<span class="t" id="t9" style="left:43.7px;top:34px;font-size:12px;color:#131722;transform:scaleX(0.9959);">/</span>
<span class="t" id="t10" style="left:51.7px;top:34px;font-size:12px;color:#131722;transform:scaleX(0.9382);">U.S.</span>
<span class="t" id="t11" style="left:77.5px;top:34px;font-size:12px;color:#131722;transform:scaleX(1.0146);">Dollar</span>
<span class="t" id="t12" style="left:113.7px;top:34px;font-size:12px;color:#131722;font-weight:700;">·</span>
<span class="t" id="t13" style="left:121.8px;top:34px;font-size:12px;color:#131722;transform:scaleX(0.9444);">1W</span>
<span class="t" id="t14" style="left:141.7px;top:34px;font-size:12px;color:#131722;font-weight:700;">·</span>
<span class="t" id="t15" style="left:149.4px;top:34px;font-size:12px;color:#131722;transform:scaleX(1.0174);">Bitstamp</span>
<span class="t" id="t16" style="left:204.9px;top:34px;font-size:12px;color:#131722;transform:scaleX(0.9254);">O<b>2.83770</b></span>
<span class="t" id="t17" style="left:262.2px;top:34px;font-size:12px;color:#131722;transform:scaleX(0.9373);">H<b>3.66596</b></span>
<span class="t" id="t18" style="left:319.9px;top:34px;font-size:12px;color:#131722;transform:scaleX(0.9325);">L<b>2.80378</b></span>
<span class="t" id="t19" style="left:375.4px;top:34px;font-size:12px;color:#131722;transform:scaleX(0.9143);">C<b>3.41696</b></span>
<span class="t" id="t20" style="left:432.2px;top:34px;font-size:12px;color:#089981;transform:scaleX(0.9168);">+0.57982</span>
<span class="t" id="t21" style="left:484.2px;top:34px;font-size:12px;color:#089981;transform:scaleX(0.9030);">(+20.44%)</span>
<span class="t" id="t22" style="left:17.9px;top:51px;font-size:12px;color:#131722;transform:scaleX(0.9648);">Vol</span>
<span class="t" id="t23" style="left:37.9px;top:51px;font-size:12px;color:#131722;font-weight:700;">·</span>
<span class="t" id="t24" style="left:45.8px;top:51px;font-size:12px;color:#131722;transform:scaleX(0.8344);">XRP</span>
<span class="t" id="t25" style="left:73.2px;top:51px;font-size:12px;color:#26a69a;transform:scaleX(0.9808);">145.54</span>
<span class="t" id="t26" style="left:110.6px;top:51px;font-size:12px;color:#26a69a;transform:scaleX(0.9900);">M</span>
<span class="t" id="t27" style="left:18.0px;top:292px;font-size:12px;color:#131722;transform:scaleX(0.7494);">RSI</span>
<span class="t" id="t28" style="left:37.8px;top:292px;font-size:12px;color:#131722;transform:scaleX(0.9769);">Divergence</span>
<span class="t" id="t29" style="left:101.6px;top:292px;font-size:12px;color:#131722;transform:scaleX(1.0232);">Indicator</span>
<span class="t" id="t30" style="left:153.5px;top:292px;font-size:12px;color:#131722;transform:scaleX(0.9861);">(14,</span>
<span class="t" id="t31" style="left:177.8px;top:292px;font-size:12px;color:#131722;transform:scaleX(0.9776);">close)</span>
<span class="t" id="t32" style="left:217.0px;top:292px;font-size:12px;color:#2962ff;transform:scaleX(0.9657);">69.64</span>
<span class="t" id="t33" style="left:253.3px;top:292px;font-size:11px;color:#131722;transform:scaleX(0.9476);">∅  ∅  ∅  ∅</span>
<span class="t" id="t34" style="left:780.1px;top:24px;font-size:12px;color:#131722;transform:scaleX(0.9656);">4.00000</span>
<span class="t" id="t35" style="left:780.1px;top:87px;font-size:12px;color:#131722;transform:scaleX(0.9656);">3.00000</span>
<span class="t" id="t36" style="left:780.1px;top:118px;font-size:12px;color:#131722;transform:scaleX(0.9656);">2.50000</span>
<span class="t" id="t37" style="left:780.1px;top:149px;font-size:12px;color:#131722;transform:scaleX(0.9656);">2.00000</span>
<span class="t" id="t38" style="left:780.1px;top:180px;font-size:12px;color:#131722;transform:scaleX(0.9656);">1.50000</span>
<span class="t" id="t39" style="left:780.1px;top:211px;font-size:12px;color:#131722;transform:scaleX(0.9656);">1.00000</span>
<span class="t" id="t40" style="left:780.1px;top:242px;font-size:12px;color:#131722;transform:scaleX(0.9656);">0.50000</span>
<span class="t" id="t43" style="left:780.1px;top:311px;font-size:12px;color:#131722;transform:scaleX(0.9923);">80.00</span>
<span class="t" id="t44" style="left:780.1px;top:344px;font-size:12px;color:#131722;transform:scaleX(0.9923);">60.00</span>
<span class="t" id="t45" style="left:780.1px;top:378px;font-size:12px;color:#131722;transform:scaleX(0.9923);">40.00</span>
<span class="t" id="t46" style="left:726.4px;top:61px;font-size:12px;color:#fff;-webkit-text-stroke:0.5px #fff;transform:scaleX(0.8277);">XRPUSD</span>
<span class="t" id="t47" style="left:780.2px;top:61px;font-size:12px;color:#fff;-webkit-text-stroke:0.5px #fff;transform:scaleX(0.9541);">3.41696</span>
<span class="t" id="t48" style="left:780.4px;top:262px;font-size:12px;color:#fff;-webkit-text-stroke:0.5px #fff;transform:scaleX(0.9387);">145.54 M</span>
<span class="t" id="t49" style="left:780.1px;top:329px;font-size:12px;color:#fff;-webkit-text-stroke:0.5px #fff;transform:scaleX(0.9923);">69.64</span>
<span class="t" id="t50" style="left:536.8px;top:297px;font-size:12px;color:#fff;-webkit-text-stroke:0.5px #fff;transform:scaleX(0.9661);">Bear</span>
<span class="t" id="t51" style="left:16.2px;top:420px;font-size:12px;color:#131722;-webkit-text-stroke:0.4px #131722;transform:scaleX(0.9961);">2023</span>
<span class="t" id="t52" style="left:148.4px;top:420px;font-size:12px;color:#131722;transform:scaleX(0.9971);">Jul</span>
<span class="t" id="t53" style="left:269.2px;top:420px;font-size:12px;color:#131722;-webkit-text-stroke:0.4px #131722;transform:scaleX(1.0149);">2024</span>
<span class="t" id="t54" style="left:401.3px;top:420px;font-size:12px;color:#131722;transform:scaleX(0.9906);">Jul</span>
<span class="t" id="t55" style="left:526.9px;top:420px;font-size:12px;color:#131722;-webkit-text-stroke:0.4px #131722;transform:scaleX(1.0074);">2025</span>
<span class="t" id="t56" style="left:658.8px;top:420px;font-size:12px;color:#131722;transform:scaleX(0.9906);">Jul</span>
<span class="t" id="t57" style="left:32.7px;top:451px;font-size:13px;color:#1e222d;transform:scaleX(0.9826);">TradingView</span>
</div>
</body>
</html>
